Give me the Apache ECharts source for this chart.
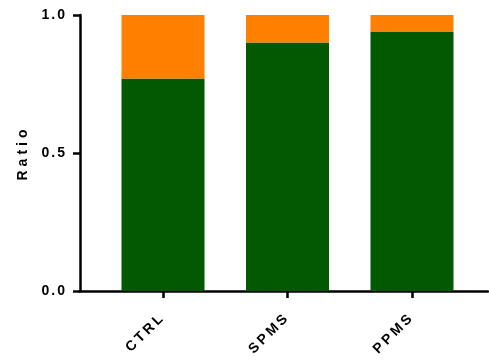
<!DOCTYPE html>
<html>
<head>
<meta charset="utf-8">
<script src="https://cdn.jsdelivr.net/npm/echarts@6/dist/echarts.min.js"></script>
<style>
  html, body { margin: 0; padding: 0; background: #fff; }
  #chart { width: 489px; height: 363px; }
</style>
</head>
<body>
<div id="chart"></div>
<script>
// Group names along the x axis
const categories = ['CTRL', 'SPMS', 'PPMS'];
// Fraction in the lower (green) segment of each bar
const lowerRatio = [0.77, 0.90, 0.94];
// Fraction in the upper (orange) segment of each bar
const upperRatio = [0.23, 0.10, 0.06];
// Y tick values
const yTicks = [0, 0.5, 1.0];
const yTitle = 'Ratio';

// Spaced-out lettering: numbers a little, the axis title the most
(function () {
  const proto = CanvasRenderingContext2D.prototype;
  const fill = proto.fillText;
  proto.fillText = function (text) {
    const s = String(text);
    this.letterSpacing = /^[\d.]+$/.test(s) ? '2px' : (s === yTitle ? '4px' : '3px');
    return fill.apply(this, arguments);
  };
})();

const chart = echarts.init(document.getElementById('chart'), null, { renderer: 'canvas' });

const font = 'Liberation Sans, Arial, sans-serif';
const axisLine = { show: true, onZero: false, lineStyle: { color: '#000', width: 2.5 } };
const axisTick = { show: true, length: 7, lineStyle: { color: '#000', width: 2.5 } };

chart.setOption({
  animation: false,
  backgroundColor: '#fff',
  grid: [
    // frame grid: carries the visible y axis and the full-width x axis line
    { left: 80, right: 1, top: 15, bottom: 72 },
    // plotting grid: the bars and the category ticks/labels
    { left: 100.75, right: 14.75, top: 15, bottom: 72 }
  ],
  xAxis: [
    {
      gridIndex: 0,
      type: 'value',
      min: 0,
      max: 1,
      axisLine: axisLine,
      axisTick: { show: false },
      axisLabel: { show: false },
      splitLine: { show: false }
    },
    {
      gridIndex: 1,
      type: 'category',
      data: categories,
      axisLine: { show: false },
      axisTick: Object.assign({ alignWithLabel: true }, axisTick),
      axisLabel: {
        rotate: 45,
        margin: 24,
        color: '#000',
        fontFamily: font,
        fontWeight: 'bold',
        fontSize: 14
      }
    }
  ],
  yAxis: [
    {
      gridIndex: 0,
      type: 'value',
      min: 0,
      max: 1,
      name: yTitle,
      nameLocation: 'middle',
      nameRotate: 90,
      nameGap: 50,
      nameTextStyle: {
        color: '#000',
        fontFamily: font,
        fontWeight: 'bold',
        fontSize: 14
      },
      axisLine: axisLine,
      axisTick: Object.assign({ customValues: yTicks }, axisTick),
      splitLine: { show: false },
      axisLabel: {
        customValues: yTicks,
        margin: 13,
        color: '#000',
        fontFamily: font,
        fontWeight: 'bold',
        fontSize: 14,
        formatter: v => v.toFixed(1)
      }
    },
    {
      gridIndex: 1,
      type: 'value',
      min: 0,
      max: 1,
      show: false
    }
  ],
  series: [
    {
      type: 'bar',
      xAxisIndex: 1,
      yAxisIndex: 1,
      stack: 'ratio',
      barWidth: 83,
      itemStyle: { color: '#025902' },
      data: lowerRatio
    },
    {
      type: 'bar',
      xAxisIndex: 1,
      yAxisIndex: 1,
      stack: 'ratio',
      barWidth: 83,
      itemStyle: { color: '#FF8000' },
      data: upperRatio
    }
  ]
});
</script>
</body>
</html>
